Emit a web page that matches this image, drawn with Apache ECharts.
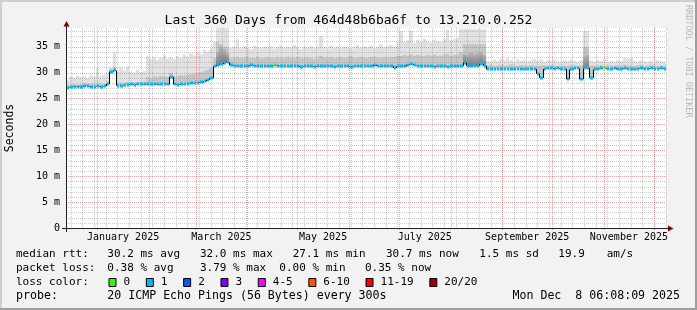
<!DOCTYPE html>
<html><head><meta charset="utf-8">
<script src="https://cdn.jsdelivr.net/npm/echarts@6/dist/echarts.min.js"></script>
<style>html,body{margin:0;padding:0;background:#f2f2f2;}#c{width:697px;height:310px;}</style>
</head><body><div id="c"></div>
<script>
// ---------------- data ----------------
const titleText = 'Last 360 Days from 464d48b6ba6f to 13.210.0.252';
const endTime = Date.UTC(2025, 11, 8, 6, 8, 9);
const spanDays = 360;
const bucketDays = 2;
const yTicks = [0, 5, 10, 15, 20, 25, 30, 35];
const yMax = 38.6;
const monthLabels = ['January 2025', 'March 2025', 'May 2025', 'July 2025', 'September 2025', 'November 2025'];
const monthLabelIdx = [0, 2, 4, 6, 8, 10];

// median rtt (ms), one value per 2-day bucket
const median = [
27.1,27.2,27.3,27.2,27.3,27.5,27.4,27.3,27.3,27.4,
27.3,27.4,27.8,30.2,30.4,27.5,27.5,27.6,27.6,27.7,
27.6,27.7,27.7,27.8,27.7,27.7,27.8,27.7,27.8,27.8,
27.7,29.2,27.7,27.6,27.7,27.8,27.8,27.9,28.0,28.0,
28.1,28.3,28.6,28.9,31.2,31.4,31.6,31.9,32.0,31.4,
31.3,31.2,31.3,31.3,31.2,31.4,31.3,31.2,31.3,31.3,
31.2,31.3,31.4,31.3,31.2,31.3,31.3,31.2,31.2,31.3,
31.1,31.2,31.3,31.2,31.1,31.2,31.3,31.2,31.3,31.2,
31.1,31.2,31.3,31.3,31.2,31.1,31.2,31.3,31.2,31.2,
31.3,31.2,31.5,31.3,31.2,31.3,31.2,31.3,30.9,31.2,
31.3,31.2,31.5,31.6,31.4,31.3,31.2,31.2,31.3,31.2,
31.1,31.2,31.3,31.2,31.1,31.2,31.3,31.2,31.3,31.9,
31.3,31.2,31.2,31.3,31.6,31.3,30.6,30.6,30.6,30.6,
30.6,30.6,30.6,30.6,30.7,30.7,30.7,30.6,30.7,30.7,
30.7,29.8,29.0,30.7,30.8,30.8,30.7,30.8,30.7,30.7,
28.7,30.6,30.8,30.8,28.7,30.8,30.9,29.0,30.6,30.7,
30.8,30.8,30.7,30.7,30.8,30.6,30.7,30.8,30.7,30.7,
30.6,30.7,30.8,30.7,30.7,30.8,30.7,30.7,30.8,30.7];

// upper edge of the dense (darker) smoke band (ms)
const smokeMid = [
27.6,27.7,27.8,27.7,27.8,28.0,27.9,27.8,27.8,27.9,
27.8,27.9,28.3,30.7,31.2,28.0,28.1,28.1,28.2,28.1,
28.1,28.2,28.2,28.3,29.2,29.0,29.3,29.1,29.4,29.3,
29.2,30.0,29.3,29.4,29.5,29.4,29.6,29.7,29.8,29.9,
30.1,30.3,30.6,30.9,32.8,36.0,35.5,35.0,35.0,32.9,
32.9,33.1,32.8,32.9,33.0,32.8,32.9,33.1,32.8,32.9,
33.0,32.9,32.8,33.0,32.9,32.8,33.1,32.9,32.8,33.0,
32.9,32.8,33.0,32.9,32.7,32.9,33.2,32.9,32.8,33.0,
32.8,32.9,33.0,32.8,32.9,33.1,32.8,32.9,33.0,32.9,
32.8,33.0,33.1,32.9,32.8,33.0,32.9,33.1,33.0,33.3,
33.2,33.4,33.3,33.5,33.2,33.4,33.3,33.2,33.5,33.3,
33.4,33.2,33.3,33.5,33.6,33.3,33.4,33.5,34.0,35.5,
35.5,35.5,35.5,35.5,35.5,35.5,31.4,31.5,31.3,31.4,
31.5,31.3,31.4,31.6,31.4,31.3,31.5,31.4,31.3,31.5,
31.4,31.3,31.4,31.5,31.3,31.4,31.5,31.3,31.4,31.4,
31.3,31.5,31.4,31.3,31.4,35.0,35.0,31.4,31.3,31.4,
31.5,31.3,31.4,31.4,31.3,31.5,31.4,31.6,31.5,31.4,
31.3,31.4,31.5,31.3,31.4,31.5,31.4,31.3,31.4,31.3];

// top of the smoke (max ping, ms)
const smokeTop = [
28.6,29.2,29.0,29.4,29.1,29.3,29.0,29.5,29.2,30.8,
29.4,29.6,29.8,31.0,33.9,30.2,31.0,30.4,31.2,30.2,
30.0,30.5,30.1,30.3,33.2,32.6,33.0,32.4,32.8,33.4,
32.7,33.0,32.6,33.1,32.8,33.5,33.0,33.7,33.3,34.0,
33.6,34.4,34.0,34.6,36.0,38.6,38.6,38.6,38.6,34.8,
35.0,36.4,34.7,35.1,34.8,34.6,35.2,34.9,34.7,35.0,
34.8,35.1,34.6,34.9,35.2,34.7,35.0,34.8,35.3,34.9,
34.6,35.0,34.8,35.1,34.7,35.0,37.0,34.9,34.6,35.2,
34.8,35.0,34.7,35.1,34.9,34.6,35.0,35.3,34.8,35.1,
34.9,35.2,34.7,35.0,35.4,34.9,35.1,35.3,35.0,35.8,
38.0,35.9,36.2,38.1,35.7,36.3,35.9,36.5,36.0,35.8,
36.4,36.1,35.9,36.6,38.3,36.2,36.5,36.7,38.4,38.4,
38.4,38.4,38.4,38.4,38.4,38.4,32.3,32.1,32.5,32.2,
32.6,32.3,32.8,32.4,32.1,32.6,32.3,32.5,32.2,32.4,
32.6,32.3,32.5,32.1,32.4,32.2,32.5,32.3,32.1,32.4,
32.2,32.5,32.3,32.1,32.4,38.0,38.0,32.3,32.1,32.4,
32.2,32.5,32.0,32.3,32.1,32.4,32.2,32.9,32.7,32.8,
32.3,32.1,32.4,32.2,32.0,32.3,32.1,32.4,32.2,32.0];

// darkest smoke core (buckets where pings cluster densely above the median)
const coreBuckets = [45, 46, 47, 48, 119, 120, 121, 122, 123, 124, 125, 155, 156];
const coreTop     = [34.0, 35.0, 34.5, 33.8, 33.6, 33.4, 33.8, 33.5, 33.7, 33.9, 33.4, 33.0, 33.4];

// lost pings per bucket (of 20)
const loss = [
1,1,1,1,1,1,1,1,1,1, 1,1,1,1,1,1,1,1,1,1, 1,1,1,1,1,1,1,1,1,1,
1,1,1,1,1,1,1,1,1,1, 1,1,1,1,1,1,1,1,1,1, 1,1,1,1,1,1,1,1,1,1,
1,1,0,1,1,1,1,1,1,1, 1,1,1,1,1,1,1,1,1,1, 1,1,1,1,1,1,1,1,1,1,
1,1,1,1,1,1,1,1,1,1, 1,1,1,1,1,1,1,1,1,1, 1,1,1,1,1,1,1,1,1,1,
1,1,1,1,1,1,1,1,1,1, 1,1,1,1,1,1,1,1,1,1, 1,1,1,1,1,1,1,1,1,1,
1,1,1,1,1,1,1,1,1,1, 1,0,1,1,1,1,1,1,1,1, 1,1,1,1,1,1,1,1,1,1];

const lossLabels = ['0', '1', '2', '3', '4-5', '6-10', '11-19', '20/20'];
const lossMax    = [0, 1, 2, 3, 5, 10, 19, 20];
const lossColors = ['#26ff00', '#00b8ff', '#0059ff', '#7e00ff', '#ff00ff', '#ff5500', '#ff0000', '#a10000'];

const statRow1 = ['median rtt:', '30.2 ms avg', '32.0 ms max', '27.1 ms min', '30.7 ms now', '1.5 ms sd', '19.9', 'am/s'];
const statRow2 = ['packet loss:', '0.38 % avg', '3.79 % max', '0.00 % min', '0.35 % now'];
const rowLossTitle = 'loss color:';
const probeRow = ['probe:', '20 ICMP Echo Pings (56 Bytes) every 300s'];
const dateText = 'Mon Dec  8 06:08:09 2025';
const watermark = 'RRDTOOL / TOBI OETIKER';
const yName = 'Seconds';

// ---------------- layout ----------------
const FONT = '"DejaVu Sans Mono"';
const row1X = [16, 107.3, 200, 292.7, 386, 479.3, 558.3, 606.7];
const row2X = [16, 107.3, 200, 279.3, 365];
const rowY = [254, 268, 282.3, 296];

const DAY = 86400000;
const startTime = endTime - spanDays * DAY;
const bStart = i => startTime + i * bucketDays * DAY;

const smokeData = median.map((m, i) => [bStart(i), bStart(i + 1), m, smokeMid[i], smokeTop[i]]);
const coreData = coreBuckets.map((b, k) => [bStart(b), bStart(b + 1), median[b], coreTop[k]]);
const medData = median.map((m, i) => [bStart(i), bStart(i + 1), m, i > 0 ? median[i - 1] : m, loss[i]]);

const weekTicks = [];
for (let t = Date.UTC(2024, 11, 16); t <= endTime; t += 7 * DAY) if (t > startTime) weekTicks.push([t, 0]);
const monthTicks = [];
for (let m = 0; m < 12; m++) { const t = Date.UTC(2025, m, 1); if (t > startTime && t < endTime) monthTicks.push([t, 0]); }
const labelVals = monthLabelIdx.map(m => (Date.UTC(2025, m, 1) + Date.UTC(2025, m + 1, 1)) / 2);
const minorY = [], majorY = [];
for (let v = 1; v < yMax; v++) (v % 5 === 0 ? majorY : minorY).push([startTime, v]);

function lossColor(l) { for (let k = 0; k < lossMax.length; k++) if (l <= lossMax[k]) return lossColors[k]; return lossColors[lossColors.length - 1]; }
const snap = v => Math.round(v) + 0.5;

function vLines(color) {
  return function (params, api) {
    const cs = params.coordSys;
    const x = snap(api.coord([api.value(0), 0])[0]);
    return { type: 'line', silent: true, shape: { x1: x, y1: cs.y, x2: x, y2: cs.y + cs.height },
      style: { stroke: color, lineWidth: 1, lineDash: [1, 1] } };
  };
}
function hLines(color) {
  return function (params, api) {
    const cs = params.coordSys;
    const y = snap(api.coord([api.value(0), api.value(1)])[1]);
    return { type: 'line', silent: true, shape: { x1: cs.x, y1: y, x2: cs.x + cs.width, y2: y },
      style: { stroke: color, lineWidth: 1, lineDash: [1, 1] } };
  };
}
function smokeItem(params, api) {
  const x0 = Math.round(api.coord([api.value(0), 0])[0]);
  const x1 = Math.round(api.coord([api.value(1), 0])[0]);
  const yMed = api.coord([api.value(0), api.value(2)])[1];
  const yMid = api.coord([api.value(0), api.value(3)])[1];
  const yTop = api.coord([api.value(0), api.value(4)])[1];
  return { type: 'group', children: [
    { type: 'rect', shape: { x: x0, y: yTop, width: x1 - x0, height: yMid - yTop }, style: { fill: '#e1e1e1' } },
    { type: 'rect', shape: { x: x0, y: yMid, width: x1 - x0, height: yMed - yMid }, style: { fill: '#c6c6c6' } }
  ] };
}
function coreItem(params, api) {
  const x0 = Math.round(api.coord([api.value(0), 0])[0]);
  const x1 = Math.round(api.coord([api.value(1), 0])[0]);
  const yMed = api.coord([api.value(0), api.value(2)])[1];
  const yCore = api.coord([api.value(0), api.value(3)])[1];
  return { type: 'rect', shape: { x: x0, y: yCore, width: x1 - x0, height: yMed - yCore },
    style: { fill: new echarts.graphic.LinearGradient(0, 0, 0, 1, [{ offset: 0, color: '#b4b4b4' }, { offset: 1, color: '#7a7a7a' }]) } };
}
function medItem(params, api) {
  const x0 = Math.round(api.coord([api.value(0), 0])[0]);
  const x1 = Math.round(api.coord([api.value(1), 0])[0]);
  const y = api.coord([api.value(0), api.value(2)])[1];
  const yp = api.coord([api.value(0), api.value(3)])[1];
  return { type: 'group', children: [
    { type: 'line', shape: { x1: x0 + 0.5, y1: yp, x2: x0 + 0.5, y2: y }, style: { stroke: '#000', lineWidth: 1 } },
    { type: 'rect', shape: { x: x0 + 1, y: Math.round(y) - 1.5, width: x1 - x0 - 1, height: 3 }, style: { fill: lossColor(api.value(4)) } }
  ] };
}

const GRIDC = 'rgba(143,143,143,0.45)';
const MGRIDC = 'rgba(222,80,80,0.5)';

// graphics: border, axes, texts, legend
const g = [];
g.push({ type: 'rect', shape: { x: 0, y: 0, width: 697, height: 2 }, style: { fill: '#cfcfcf' }, z: 100 });
g.push({ type: 'rect', shape: { x: 0, y: 0, width: 2, height: 310 }, style: { fill: '#cfcfcf' }, z: 100 });
g.push({ type: 'rect', shape: { x: 0, y: 308, width: 697, height: 2 }, style: { fill: '#9e9e9e' }, z: 100 });
g.push({ type: 'rect', shape: { x: 695, y: 0, width: 2, height: 310 }, style: { fill: '#9e9e9e' }, z: 100 });
// axes
g.push({ type: 'line', shape: { x1: 62, y1: 228.5, x2: 669, y2: 228.5 }, style: { stroke: '#212121', lineWidth: 1 }, z: 100 });
g.push({ type: 'line', shape: { x1: 66.5, y1: 232, x2: 66.5, y2: 25 }, style: { stroke: '#212121', lineWidth: 1 }, z: 100 });
g.push({ type: 'polygon', shape: { points: [[668, 225.5], [673.5, 228.5], [668, 231.5]] }, style: { fill: '#800000' }, z: 101 });
g.push({ type: 'polygon', shape: { points: [[63.5, 26.5], [66.5, 21], [69.5, 26.5]] }, style: { fill: '#800000' }, z: 101 });
// y name & watermark
g.push({ type: 'text', x: 10.5, y: 128, rotation: Math.PI / 2, z: 100,
  style: { text: yName, font: '11.5px ' + FONT, fill: '#000', align: 'center', verticalAlign: 'middle', textAlign: 'center', textVerticalAlign: 'middle' } });
g.push({ type: 'text', x: 688.5, y: 5, rotation: -Math.PI / 2, z: 100,
  style: { text: watermark, font: '8.5px ' + FONT, fill: '#b8b8b8', align: 'left', verticalAlign: 'middle', textAlign: 'left', textVerticalAlign: 'middle' } });
function txt(t, x, y, align, size) {
  g.push({ type: 'text', x: x, y: y, z: 100,
    style: { text: t, font: (size || 11) + 'px ' + FONT, fill: '#000', align: align || 'left', verticalAlign: 'middle', textAlign: align || 'left', textVerticalAlign: 'middle' } });
}
statRow1.forEach((t, k) => txt(t, row1X[k], rowY[0]));
statRow2.forEach((t, k) => txt(t, row2X[k], rowY[1]));
txt(rowLossTitle, 16, rowY[2]);
let bx = 108.5;
const CH = 6.62;
lossLabels.forEach((lab, k) => {
  g.push({ type: 'rect', z: 100, shape: { x: bx + 0.5, y: 278.5, width: 7, height: 8 }, style: { fill: lossColors[k], stroke: '#000', lineWidth: 1 } });
  txt(lab, bx + 15, rowY[2]);
  bx = bx + 15 + lab.length * CH + 15.7;
});
txt(probeRow[0], 16, rowY[3], 'left', 11.6);
txt(probeRow[1], 107.3, rowY[3], 'left', 11.6);
txt(dateText, 680, rowY[3], 'right', 11.6);

const chart = echarts.init(document.getElementById('c'), null, { renderer: 'canvas', width: 697, height: 310 });
chart.setOption({
  animation: false,
  backgroundColor: '#f2f2f2',
  title: { text: titleText, left: 'center', top: 9,
    textStyle: { fontFamily: FONT, fontSize: 13, fontWeight: 'normal', color: '#000' } },
  grid: { left: 66, top: 28, width: 600, height: 200, show: true, backgroundColor: '#ffffff', borderWidth: 0 },
  xAxis: { type: 'value', min: startTime, max: endTime,
    axisLine: { show: false }, splitLine: { show: false },
    axisTick: { show: true, customValues: monthTicks.map(d => d[0]), length: 2, lineStyle: { color: MGRIDC } },
    axisLabel: { customValues: labelVals, margin: 4, fontFamily: FONT, fontSize: 10, color: '#000',
      formatter: v => { const k = labelVals.findIndex(l => Math.abs(l - v) < DAY); return k >= 0 ? monthLabels[k] : ''; } } },
  yAxis: { type: 'value', min: 0, max: yMax, interval: 5,
    axisLine: { show: false }, axisTick: { show: false }, splitLine: { show: false },
    axisLabel: { customValues: yTicks, margin: 6, fontFamily: FONT, fontSize: 10, color: '#000',
      formatter: v => v === 0 ? '0' : v + ' m' } },
  series: [
    { type: 'custom', name: 'smoke', renderItem: smokeItem, data: smokeData, clip: true, z: 1, silent: true },
    { type: 'custom', name: 'core', renderItem: coreItem, data: coreData, clip: true, z: 1, silent: true },
    { type: 'custom', name: 'weeks', renderItem: vLines(GRIDC), data: weekTicks, z: 2, silent: true },
    { type: 'custom', name: 'minorY', renderItem: hLines(GRIDC), data: minorY, z: 2, silent: true },
    { type: 'custom', name: 'months', renderItem: vLines(MGRIDC), data: monthTicks, z: 3, silent: true },
    { type: 'custom', name: 'majorY', renderItem: hLines(MGRIDC), data: majorY, z: 3, silent: true },
    { type: 'custom', name: 'median', renderItem: medItem, data: medData, clip: true, z: 4, silent: true }
  ],
  graphic: { elements: g }
});
</script></body></html>
